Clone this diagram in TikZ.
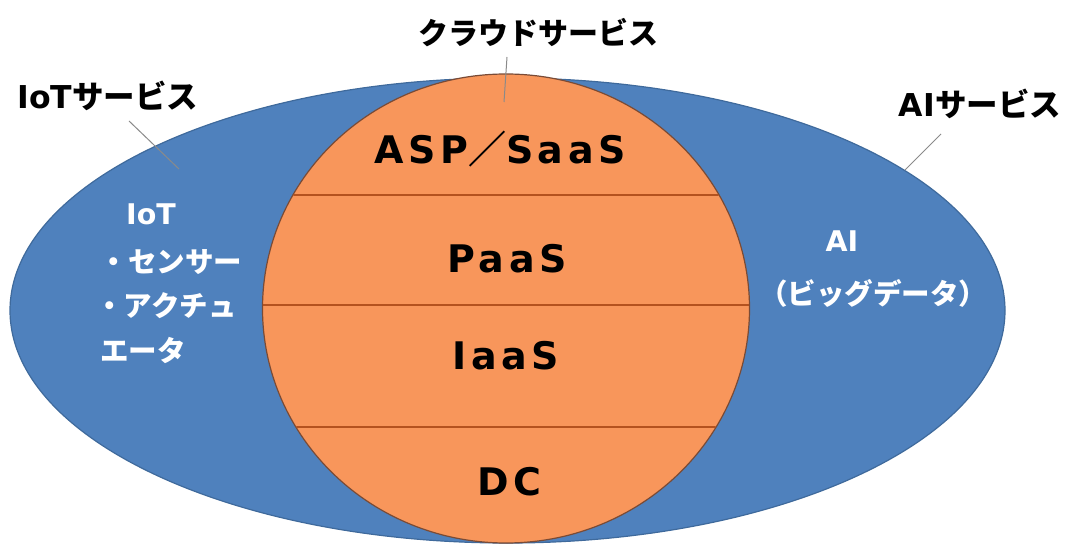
\documentclass[tikz,border=0pt]{standalone}
\usepackage{fontspec}
\setmainfont{Noto Sans CJK JP}
\newfontfamily\jp{Noto Sans CJK JP}
\newfontfamily\lat{DejaVu Sans}
\newfontfamily\latsp{DejaVu Sans}[LetterSpace=12]
\usetikzlibrary{shapes.geometric}
\definecolor{svcblue}{HTML}{4F81BD}
\definecolor{blueedge}{HTML}{3F6A9C}
\definecolor{cloudor}{HTML}{F8965B}
\definecolor{orangeedge}{HTML}{7A4B36}
\definecolor{layerline}{HTML}{B4521F}
\definecolor{leadgray}{HTML}{8A8A8A}
\newcommand{\latw}[1]{{\lat\bfseries #1}}
\begin{document}
\begin{tikzpicture}[x=1pt,y=-1pt,
  lab/.style={font=\jp\bfseries\fontsize{30}{30}\selectfont, text=black, inner sep=0},
  labw/.style={lab, font=\jp\bfseries\fontsize{31.5}{31.5}\selectfont},
  inlab/.style={font=\latsp\bfseries\fontsize{38}{38}\selectfont, text=black, inner sep=0},
  wlab/.style={font=\jp\bfseries\fontsize{28.5}{28.5}\selectfont, text=white, inner sep=0},
  leader/.style={draw=leadgray, line width=1pt},
  layer/.style={draw=layerline, line width=1.5pt}]
\useasboundingbox (0,0) rectangle (1074,545);
% outer ellipse (services)
\node[ellipse, draw=blueedge, line width=1.2pt, fill=svcblue,
      minimum width=995pt, minimum height=465pt, inner sep=0, outer sep=0] (svc) at (507.5,310.5) {};
% cloud circle
\node[ellipse, draw=orangeedge, line width=1.2pt, fill=cloudor,
      minimum width=487pt, minimum height=469pt, inner sep=0, outer sep=0] (cloud) at (506,308.5) {};
% layer separators
\begin{scope}
  \clip (506,308.5) ellipse [x radius=242.8pt, y radius=233.8pt];
  \draw[layer] (240,195) -- (770,195);
  \draw[layer] (240,305) -- (770,305);
  \draw[layer] (240,427) -- (770,427);
\end{scope}
% layer labels
\node[inlab] (asp)  at (500,149) {ASP{\jp\bfseries ／}SaaS};
\node[inlab] (paas) at (507,259) {PaaS};
\node[inlab] (iaas) at (506,356) {IaaS};
\node[inlab] (dc)   at (509,482) {DC};
% outside labels
\node[lab]  (cloudlab) at (538,33) {クラウドサービス};
\node[labw] (iotlab)   at (108,96) {\latw{IoT}サービス};
\node[labw] (ailab)    at (980,104) {\latw{AI}サービス};
% leaders
\coordinate (cloudA) at (507,57);  \coordinate (cloudB) at (504,102);
\coordinate (iotA)   at (129,121); \coordinate (iotB)   at (179,169);
\coordinate (aiA)    at (941,134); \coordinate (aiB)    at (905,170);
\draw[leader] (cloudA) -- (cloudB);
\draw[leader] (iotA) -- (iotB);
\draw[leader] (aiA) -- (aiB);
% white texts, left
\node[wlab] (iot1) at (151,214) {\latw{IoT}};
\node[wlab] (iot2) at (171,262) {・センサー};
\node[wlab] (iot3) at (166,306) {・アクチュ};
\node[wlab] (iot4) at (143,350) {エータ};
% white texts, right
\node[wlab] (ai1) at (842,241) {\latw{AI}};
\node[wlab] (ai2) at (873,293) {（ビッグデータ）};
\end{tikzpicture}
\end{document}
